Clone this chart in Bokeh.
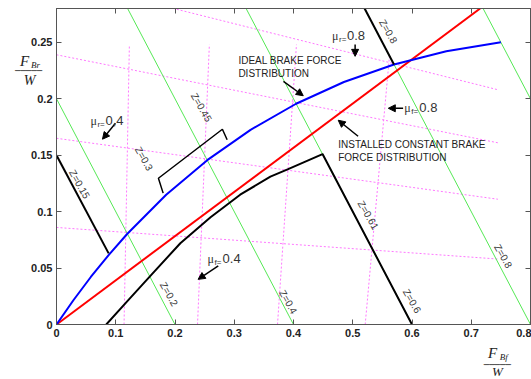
from bokeh.plotting import figure
from bokeh.models import Label, Arrow, NormalHead, LinearAxis, FixedTicker, Range1d
from bokeh.embed import file_html
from bokeh.resources import INLINE

# ---------------- data ----------------
x_ticks = [0, 0.1, 0.2, 0.3, 0.4, 0.5, 0.6, 0.7, 0.8]
x_tick_labels = ["0", "0.1", "0.2", "0.3", "0.4", "0.5", "0.6", "0.7", "0.8"]
y_ticks = [0, 0.05, 0.1, 0.15, 0.2, 0.25]
y_tick_labels = ["0", "0.05", "0.1", "0.15", "0.2", "0.25"]

# ideal brake force distribution (I-curve)
ideal_x = [0, 0.0285, 0.0579, 0.0883, 0.1196, 0.1851, 0.2544, 0.3275, 0.4044, 0.4851, 0.5696, 0.6579, 0.75]
ideal_y = [0, 0.0215, 0.0421, 0.0617, 0.0804, 0.1149, 0.1456, 0.1725, 0.1956, 0.2149, 0.2304, 0.2421, 0.25]

# installed constant brake force distribution
installed_x = [0, 0.715]
installed_y = [0, 0.28]

# black lower curve (ends along Z=0.6)
actual_x = [0.084, 0.12, 0.16, 0.209, 0.26, 0.31, 0.361, 0.39, 0.449, 0.6]
actual_y = [0.0, 0.021, 0.044, 0.072, 0.095, 0.115, 0.131, 0.1375, 0.151, 0.0]

# bracket between Z=0.3 and Z=0.45 on the I-curve
bracket_x = [0.180, 0.172, 0.280, 0.288]
bracket_y = [0.1164, 0.1296, 0.173, 0.1637]

# black Z segments
z015_x = [0.0, 0.088]
z015_y = [0.15, 0.063]
z08_x = [0.52, 0.5696]
z08_y = [0.28, 0.2304]

# green constant deceleration lines
z_levels = [0.2, 0.4, 0.6, 0.8, 1.0]

# front-wheel lock lines (mu_f) : bottom x, top x, top y
muf_bottom_x = [0.114, 0.238, 0.373, 0.521]
muf_top_x = [0.123, 0.258, 0.405, 0.562]
muf_top_y = [0.248, 0.248, 0.248, 0.238]

# rear-wheel lock lines (mu_r): y at x=0, y at end x
mur_start_y = [0.086, 0.165, 0.239, 0.306]
mur_end_y = [0.058, 0.111, 0.161, 0.208]
mur_end_x = 0.745

# rotated Z labels
zlab_text = ["Z=0.15", "Z=0.3", "Z=0.45", "Z=0.2", "Z=0.4", "Z=0.61", "Z=0.6", "Z=0.8", "Z=0.8"]
zlab_x = [0.0388, 0.1476, 0.2445, 0.1897, 0.391, 0.526, 0.600, 0.560, 0.754]
zlab_y = [0.1243, 0.1469, 0.1924, 0.027, 0.020, 0.0969, 0.0208, 0.2597, 0.0606]

# ---------------- figure ----------------
# The canvas is larger than the window and shifted up/left with negative margins, so that the
# side panels have room for the fraction-style axis labels while the frame stays in place.
SHIFT_X, SHIFT_Y = 44, 72
p = figure(width=531 + SHIFT_X, height=379 + SHIFT_Y, output_backend="svg", toolbar_location=None,
           x_range=Range1d(0, 0.8), y_range=Range1d(0, 0.28),
           min_border_left=56 + SHIFT_X, min_border_right=1, min_border_top=8 + SHIFT_Y,
           min_border_bottom=55)
p.margin = (-SHIFT_Y, 0, 0, -SHIFT_X)
p.xgrid.visible = False
p.ygrid.visible = False
p.outline_line_color = "#555555"
p.outline_line_width = 1
p.background_fill_color = "white"
p.border_fill_color = "white"

def style_axis(ax, ticks, labels, show):
    ax.ticker = FixedTicker(ticks=ticks)
    ax.major_label_overrides = {t: (l if show else "") for t, l in zip(ticks, labels)}
    ax.major_tick_in = 5
    ax.major_tick_out = 0
    ax.minor_tick_line_color = None
    ax.axis_line_color = "#555555"
    ax.major_tick_line_color = "#555555"
    ax.major_label_text_font = "Liberation Sans"
    ax.major_label_text_font_style = "bold"
    ax.major_label_text_font_size = "11px" if show else "0px"
    ax.major_label_text_color = "#222222"
    ax.major_label_standoff = 4 if show else 0

style_axis(p.xaxis[0], x_ticks, x_tick_labels, True)
style_axis(p.yaxis[0], y_ticks, y_tick_labels, True)
top_ax = LinearAxis()
right_ax = LinearAxis()
style_axis(top_ax, x_ticks, x_tick_labels, False)
style_axis(right_ax, y_ticks, y_tick_labels, False)
p.add_layout(top_ax, "above")
p.add_layout(right_ax, "right")

pink = "#ff77ff"
# rear lock lines
p.multi_line(xs=[[0, mur_end_x] for _ in mur_start_y],
             ys=[[a, b] for a, b in zip(mur_start_y, mur_end_y)],
             line_color=pink, line_width=1, line_dash="2 2")
# front lock lines
p.multi_line(xs=[[a, b] for a, b in zip(muf_bottom_x, muf_top_x)],
             ys=[[0, t] for t in muf_top_y],
             line_color=pink, line_width=1, line_dash="2 2")
# green Z lines
p.multi_line(xs=[[0, z] for z in z_levels], ys=[[z, 0] for z in z_levels],
             line_color="#55e855", line_width=1)

p.line(installed_x, installed_y, line_color="#ff0000", line_width=2)
p.line(ideal_x, ideal_y, line_color="#0000ff", line_width=2)
p.line(actual_x, actual_y, line_color="black", line_width=2)
p.line(bracket_x, bracket_y, line_color="black", line_width=1.5)
p.line(z015_x, z015_y, line_color="black", line_width=2)
p.line(z08_x, z08_y, line_color="black", line_width=2)

# Z labels
for t, x, y in zip(zlab_text, zlab_x, zlab_y):
    p.add_layout(Label(x=x, y=y, text=t, angle=-1.05, text_align="center", text_baseline="middle",
                       text_font="Liberation Sans", text_font_size="10px", text_color="#333333"))

# annotations text
txt = dict(text_font="Liberation Sans", text_font_size="10px", text_color="#222222",
           text_baseline="middle")
p.add_layout(Label(x=0.307, y=0.234, text="IDEAL BRAKE FORCE", **txt))
p.add_layout(Label(x=0.307, y=0.2226, text="DISTRIBUTION", **txt))
p.add_layout(Label(x=0.4755, y=0.1597, text="INSTALLED CONSTANT BRAKE", **txt))
p.add_layout(Label(x=0.4755, y=0.148, text="FORCE DISTRIBUTION", **txt))

def arrow(x0, y0, x1, y1):
    p.add_layout(Arrow(end=NormalHead(size=7, fill_color="black", line_color="black"),
                       x_start=x0, y_start=y0, x_end=x1, y_end=y1,
                       line_color="black", line_width=1.5))

arrow(0.383, 0.2155, 0.4165, 0.2027)
arrow(0.509, 0.1668, 0.4755, 0.181)
arrow(0.504, 0.2482, 0.504, 0.2376)
arrow(0.585, 0.1916, 0.56, 0.1916)
arrow(0.0995, 0.1783, 0.0776, 0.1642)
arrow(0.273, 0.052, 0.239, 0.040)

mu_labels = [("r=", "0.8", 0.465, 0.2553), ("f=", "0.8", 0.587, 0.1916),
             ("r=", "0,4", 0.0573, 0.180), ("f=", "0.4", 0.255, 0.058)]
for sub, num, x, y in mu_labels:
    p.add_layout(Label(x=x, y=y, text="\u03bc", text_font="Liberation Serif", text_font_size="12px",
                       text_color="#333333", text_baseline="middle"))
    p.add_layout(Label(x=x, y=y, x_offset=7, y_offset=-3, text=sub, text_font="Liberation Sans",
                       text_font_size="8px", text_color="#333333", text_baseline="middle"))
    p.add_layout(Label(x=x, y=y, x_offset=15, y_offset=1, text=num, text_font="Liberation Sans",
                       text_font_size="13px", text_color="#333333", text_baseline="middle"))

# axis label fractions (kept in side panels so they are not clipped to the frame)
serif = dict(text_font="Liberation Serif", text_font_style="italic", text_color="#222222",
             text_baseline="middle", text_align="center")
bar = dict(text_font="DejaVu Sans", text_font_size="9px", text_color="#222222",
           text_baseline="middle", text_align="center")
p.add_layout(Label(x=-0.0540, y=0.2339, text="F", text_font_size="15px", **serif), "left")
p.add_layout(Label(x=-0.0354, y=0.2300, text="Br", text_font_size="9px", **serif), "left")
p.add_layout(Label(x=-0.0472, y=0.2242, text="\u2500\u2500\u2500\u2500\u2500", **bar), "left")
p.add_layout(Label(x=-0.0456, y=0.2162, text="W", text_font_size="14px", **serif), "left")

p.add_layout(Label(x=0.7360, y=-0.0250, text="F", text_font_size="15px", **serif), "above")
p.add_layout(Label(x=0.7547, y=-0.0285, text="Bf", text_font_size="9px", **serif), "above")
p.add_layout(Label(x=0.7440, y=-0.0355, text="\u2500\u2500\u2500\u2500\u2500", **bar), "above")
p.add_layout(Label(x=0.7440, y=-0.0415, text="W", text_font_size="13px", **serif), "above")

open("out.html", "w").write(file_html(p, INLINE))
